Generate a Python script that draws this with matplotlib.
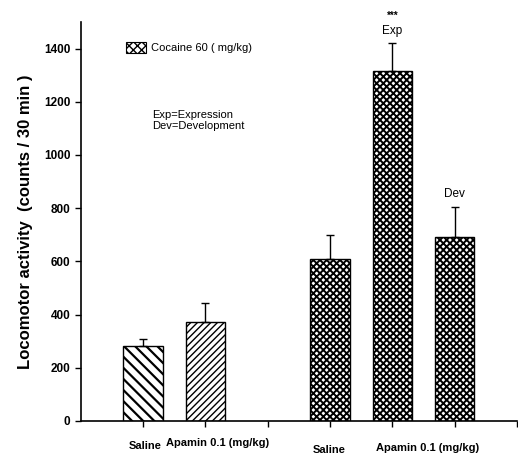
import matplotlib
matplotlib.use("Agg")
import matplotlib.pyplot as plt
from matplotlib.patches import Rectangle

plt.rcParams['font.family'] = ['Liberation Sans Narrow', 'Liberation Sans', 'DejaVu Sans']

# Data
groups = ["Saline", "Apamin 0.1 (mg/kg)", "Saline", "Apamin 0.1 (mg/kg)", "Apamin 0.1 (mg/kg)"]
positions = [1, 2, 4, 5, 6]
means = [280, 370, 610, 1315, 690]
sems = [28, 75, 88, 105, 115]
hatches = ['\\\\\\', '/////', 'xxxxx', 'xxxxx', 'xxxxx']
hatch_lw = [1.6, 1.0, 1.4, 1.4, 1.4]
bar_labels = ["", "", "", "Exp", "Dev"]
yticks = [0, 200, 400, 600, 800, 1000, 1200, 1400]

fig = plt.figure(figsize=(5.18, 4.57), dpi=100)
ax = fig.add_axes([0.156, 0.079, 0.842, 0.873])

for p, m, s, h, hl, lab in zip(positions, means, sems, hatches, hatch_lw, bar_labels):
    with plt.rc_context({'hatch.linewidth': hl}):
        ax.bar(p, m, width=0.63, color='white', edgecolor='black', hatch=h, linewidth=1.0, zorder=2)
    ax.errorbar(p, m, yerr=[[0], [s]], fmt='none', ecolor='black', elinewidth=1.0, capsize=3, capthick=1.0, zorder=3)
    if lab:
        ax.text(p, m + s + 25, lab, ha='center', va='bottom', fontsize=8.5)
ax.text(5, 1505, "***", ha='center', va='bottom', fontsize=7, fontweight='bold')

ax.set_xlim(0, 7)
ax.set_ylim(0, 1500)
ax.set_yticks(yticks)
ax.set_yticklabels([str(v) for v in yticks], fontsize=8.5, fontweight='bold')
ax.set_xticks([1, 2, 3, 4, 5, 6, 7])
ax.set_xticklabels([])
ax.tick_params(axis='both', direction='out', length=4, width=1)
ax.spines['top'].set_visible(False)
ax.spines['right'].set_visible(False)
ax.spines['left'].set_linewidth(1.2)
ax.spines['bottom'].set_linewidth(1.2)

# group labels below axis
label_pos = [(1.03, -94), (2.2, -83), (3.98, -109), (5.57, -102)]
label_txt = ["Saline", "Apamin 0.1 (mg/kg)", "Saline", "Apamin 0.1 (mg/kg)"]
for (x, y), t in zip(label_pos, label_txt):
    ax.text(x, y, t, ha='center', va='center', fontsize=8, fontweight='bold')

ax.set_ylabel("Locomotor activity  (counts / 30 min )", fontsize=12, fontweight='bold',
              family=['Liberation Sans', 'DejaVu Sans'], labelpad=8)

# legend
with plt.rc_context({'hatch.linewidth': 1.0}):
    ax.add_patch(Rectangle((0.73, 1382), 0.32, 42, facecolor='white', edgecolor='black',
                           hatch='xxxx', linewidth=0.8, clip_on=False))
ax.text(1.12, 1402, "Cocaine 60 ( mg/kg)", ha='left', va='center', fontsize=8)
ax.text(1.14, 1129, "Exp=Expression\nDev=Development", ha='left', va='center', fontsize=8, linespacing=1.1)

fig.savefig("out.png", dpi=100)
